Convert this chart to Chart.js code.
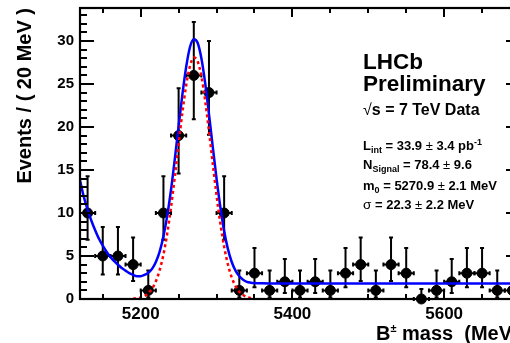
<!DOCTYPE html>
<html>
<head>
<meta charset="utf-8">
<script src="https://cdn.jsdelivr.net/npm/chart.js@4/dist/chart.umd.min.js"></script>
<style>
  html, body { margin: 0; padding: 0; overflow: hidden; background: #fff; }
  #wrap { width: 536px; height: 343px; position: relative; }
</style>
</head>
<body>
<div id="wrap"><canvas id="c"></canvas></div>
<script>
// B± invariant-mass spectrum, 20 MeV bins
const massBins = [5130, 5150, 5170, 5190, 5210, 5230, 5250, 5270, 5290, 5310,
                  5330, 5350, 5370, 5390, 5410, 5430, 5450, 5470, 5490, 5510,
                  5530, 5550, 5570, 5590, 5610, 5630, 5650, 5670, 5690];
const events   = [10, 5, 5, 4, 1, 10, 19, 26, 24, 10,
                  1, 3, 1, 2, 1, 2, 1, 3, 4, 1,
                  4, 3, 0, 1, 2, 3, 3, 1, 1];
// Poisson 68% interval bounds per bin
const errLow   = [6.89, 2.84, 2.84, 2.09, 0.17, 6.89, 14.6, 20.9, 19.1, 6.89,
                  0.17, 1.37, 0.17, 0.71, 0.17, 0.71, 0.17, 1.37, 2.09, 0.17,
                  2.09, 1.37, 0, 0.17, 0.71, 1.37, 1.37, 0.17, 0.17];
const errHigh  = [14.27, 8.38, 8.38, 7.16, 3.30, 14.27, 24.5, 32.2, 30.0, 14.27,
                  3.30, 5.92, 3.30, 4.64, 3.30, 4.64, 3.30, 5.92, 7.16, 3.30,
                  7.16, 5.92, 1.15, 3.30, 4.64, 5.92, 5.92, 3.30, 3.30];
const binHalfWidth = 10;

// Total fit (signal + background), blue curve
const fitMass  = [5120, 5125, 5130, 5135, 5140, 5145, 5150, 5155, 5160, 5165,
                  5170, 5175, 5180, 5185, 5190, 5195, 5200, 5205, 5210, 5215,
                  5220, 5225, 5230, 5235, 5240, 5245, 5250, 5255, 5260, 5265,
                  5270, 5275, 5280, 5285, 5290, 5295, 5300, 5305, 5310, 5315,
                  5320, 5325, 5330, 5335, 5340, 5345, 5350, 5360, 5380, 5450,
                  5550, 5700];
const fitTotal = [13.8, 11.9, 10.4, 9.1, 8.0, 7.0, 6.2, 5.5, 4.9, 4.4,
                  4.0, 3.6, 3.3, 3.0, 2.8, 2.65, 2.65, 2.8, 3.05, 3.5,
                  4.3, 5.5, 7.3, 9.7, 12.7, 16.3, 20.1, 23.8, 27.0, 29.3,
                  30.2, 29.8, 28.0, 25.1, 21.5, 17.7, 14.0, 10.7, 7.9, 5.8,
                  4.3, 3.3, 2.65, 2.25, 2.0, 1.9, 1.85, 1.82, 1.8, 1.8,
                  1.8, 1.8];

// Signal component only, red dotted curve
const sigMass  = [5190, 5195, 5200, 5205, 5210, 5215, 5220, 5225, 5230, 5235,
                  5240, 5245, 5250, 5255, 5260, 5265, 5270, 5275, 5280, 5285,
                  5290, 5295, 5300, 5305, 5310, 5315, 5320, 5325, 5330, 5335,
                  5340, 5345, 5350];
const sigOnly  = [0.04, 0.08, 0.18, 0.35, 0.67, 1.2, 2.06, 3.35, 5.18, 7.63,
                  10.69, 14.24, 18.04, 21.73, 24.88, 27.1, 28.07, 27.65, 25.9, 23.07,
                  19.55, 15.75, 12.06, 8.79, 6.09, 4.01, 2.51, 1.5, 0.85, 0.46,
                  0.23, 0.11, 0.05];

const xTickLabels = [5200, 5400, 5600];
const yTickLabels = [0, 5, 10, 15, 20, 25, 30];

const FONT = '"Liberation Sans", Arial, Helvetica, sans-serif';

const toXY = (xs, ys) => xs.map((x, i) => ({ x: x, y: ys[i] }));

// Error bars for the data points
const errorBars = {
  id: 'errorBars',
  beforeDatasetsDraw(chart) {
    const { ctx } = chart;
    const xs = chart.scales.x, ys = chart.scales.y;
    ctx.save();
    ctx.strokeStyle = '#000';
    ctx.lineWidth = 2;
    const cap = 2;
    massBins.forEach((m, i) => {
      const px = xs.getPixelForValue(m);
      const py = ys.getPixelForValue(events[i]);
      const yLo = ys.getPixelForValue(errLow[i]);
      const yHi = ys.getPixelForValue(errHigh[i]);
      const xL = xs.getPixelForValue(m - binHalfWidth);
      const xR = xs.getPixelForValue(m + binHalfWidth);
      ctx.beginPath();
      ctx.moveTo(px, yLo); ctx.lineTo(px, yHi);
      ctx.moveTo(xL, py); ctx.lineTo(xR, py);
      // end caps
      ctx.moveTo(px - cap, yHi); ctx.lineTo(px + cap, yHi);
      ctx.moveTo(px - cap, yLo); ctx.lineTo(px + cap, yLo);
      ctx.moveTo(xL, py - cap); ctx.lineTo(xL, py + cap);
      ctx.moveTo(xR, py - cap); ctx.lineTo(xR, py + cap);
      ctx.stroke();
    });
    ctx.restore();
  }
};

// Frame with inward ticks on all four sides
const frameTicks = {
  id: 'frameTicks',
  afterDatasetsDraw(chart) {
    const { ctx, chartArea: a } = chart;
    const xs = chart.scales.x, ys = chart.scales.y;
    ctx.save();
    ctx.strokeStyle = '#000';
    ctx.lineWidth = 2;
    ctx.beginPath();
    for (let v = 5150; v < 5700; v += 50) {
      const px = Math.round(xs.getPixelForValue(v));
      const len = (v % 200 === 0) ? 9 : 5;
      ctx.moveTo(px, a.bottom); ctx.lineTo(px, a.bottom - len);
      ctx.moveTo(px, a.top); ctx.lineTo(px, a.top + len);
    }
    for (let v = 1; v <= 33; v += 1) {
      const py = Math.round(ys.getPixelForValue(v));
      const len = (v % 5 === 0) ? 14 : 7;
      ctx.moveTo(a.left, py); ctx.lineTo(a.left + len, py);
      ctx.moveTo(a.right, py); ctx.lineTo(a.right - len, py);
    }
    ctx.stroke();
    ctx.lineWidth = 2.2;
    ctx.strokeRect(a.left, a.top, a.right - a.left, a.bottom - a.top);
    ctx.restore();
  }
};

function drawRich(ctx, x, y, parts) {
  let cx = x;
  parts.forEach(p => {
    ctx.font = (p.w || 'bold') + ' ' + p.s + 'px ' + FONT;
    ctx.fillText(p.t, cx, y + (p.dy || 0));
    cx += ctx.measureText(p.t).width;
  });
}

// Text panel and x-axis title
const annotations = {
  id: 'annotations',
  afterDraw(chart) {
    const { ctx, chartArea: a } = chart;
    ctx.save();
    ctx.fillStyle = '#000';
    ctx.textBaseline = 'alphabetic';
    ctx.textAlign = 'left';
    const x0 = a.left + 283;
    drawRich(ctx, x0, 69, [{ t: 'LHCb', s: 22.5 }]);
    drawRich(ctx, x0, 91, [{ t: 'Preliminary', s: 22.5 }]);
    drawRich(ctx, x0, 115, [{ t: '\u221A', s: 16, w: 'normal' }, { t: 's = 7 TeV Data', s: 16 }]);
    drawRich(ctx, x0, 150, [{ t: 'L', s: 13 }, { t: 'int', s: 9, dy: 3 },
      { t: ' = 33.9 ', s: 13 }, { t: '\u00B1', s: 13, w: 'normal' }, { t: ' 3.4 pb', s: 13 },
      { t: '-1', s: 9, dy: -5 }]);
    drawRich(ctx, x0, 168.5, [{ t: 'N', s: 13 }, { t: 'Signal', s: 9, dy: 3 },
      { t: ' = 78.4 ', s: 13 }, { t: '\u00B1', s: 13, w: 'normal' }, { t: ' 9.6', s: 13 }]);
    drawRich(ctx, x0, 190, [{ t: 'm', s: 13 }, { t: '0', s: 9, dy: 3 },
      { t: ' = 5270.9 ', s: 13 }, { t: '\u00B1', s: 13, w: 'normal' }, { t: ' 2.1 MeV', s: 13 }]);
    drawRich(ctx, x0, 208.5, [{ t: '\u03C3', s: 13.5, w: 'normal' },
      { t: ' = 22.3 ', s: 13 }, { t: '\u00B1', s: 13, w: 'normal' }, { t: ' 2.2 MeV', s: 13 }]);
    // x-axis title
    drawRich(ctx, a.left + 296, 340, [{ t: 'B', s: 20 }, { t: '\u00B1', s: 11, dy: -8 },
      { t: ' mass  (MeV/c', s: 20 }, { t: '2', s: 11, dy: -8 }, { t: ')', s: 20 }]);
    ctx.restore();
  }
};

new Chart(document.getElementById('c'), {
  type: 'scatter',
  data: {
    datasets: [
      {
        label: 'Data',
        data: toXY(massBins, events),
        backgroundColor: '#000',
        borderColor: '#000',
        pointRadius: 5,
        pointHoverRadius: 5,
        showLine: false,
        clip: false,
        order: 3
      },
      {
        label: 'Total fit',
        data: toXY(fitMass, fitTotal),
        showLine: true,
        borderColor: '#0000ff',
        borderWidth: 2.5,
        pointRadius: 0,
        cubicInterpolationMode: 'monotone',
        fill: false,
        order: 2
      },
      {
        label: 'Signal',
        data: toXY(sigMass, sigOnly),
        showLine: true,
        borderColor: '#ff0000',
        borderWidth: 2.5,
        borderDash: [3, 3],
        pointRadius: 0,
        cubicInterpolationMode: 'monotone',
        fill: false,
        order: 1
      }
    ]
  },
  options: {
    responsive: true,
    maintainAspectRatio: false,
    animation: false,
    devicePixelRatio: 1,
    events: [],
    layout: { padding: { top: 8, right: 16, left: 0, bottom: 0 } },
    plugins: { legend: { display: false }, tooltip: { enabled: false } },
    scales: {
      x: {
        type: 'linear',
        min: 5120,
        max: 5700,
        grid: { display: false, tickLength: 0 },
        border: { display: false },
        ticks: {
          color: '#000',
          font: { family: FONT, size: 17, weight: 'bold' },
          padding: 5,
          maxRotation: 0,
          callback: v => String(v)
        },
        afterBuildTicks: s => { s.ticks = xTickLabels.map(v => ({ value: v })); },
        afterFit: s => { s.height = 44; s.paddingLeft = 0; s.paddingRight = 0; }
      },
      y: {
        min: 0,
        max: 33.84,
        grid: { display: false, tickLength: 0 },
        border: { display: false },
        ticks: {
          color: '#000',
          font: { family: FONT, size: 15, weight: 'bold' },
          padding: 6,
          callback: v => String(v)
        },
        title: {
          display: true,
          text: 'Events / ( 20 MeV )',
          color: '#000',
          align: 'end',
          font: { family: FONT, size: 20, weight: 'bold' },
          padding: { top: 13, bottom: 0 }
        },
        afterBuildTicks: s => { s.ticks = yTickLabels.map(v => ({ value: v })); },
        afterFit: s => { s.width = 80; s.paddingTop = 0; s.paddingBottom = 0; }
      }
    }
  },
  plugins: [errorBars, frameTicks, annotations]
});
</script>
</body>
</html>
